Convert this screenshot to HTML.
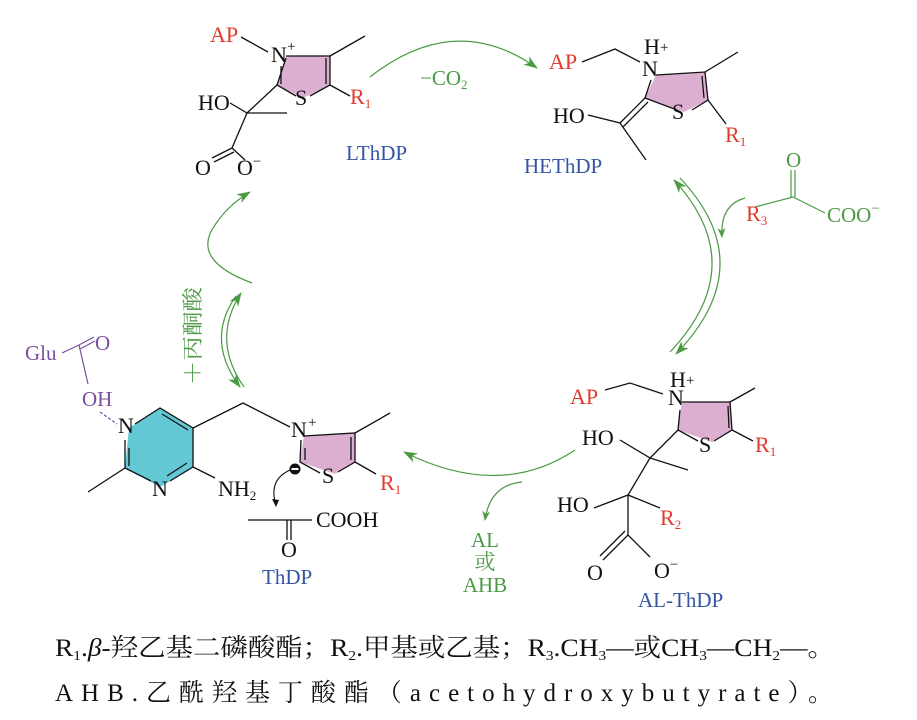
<!DOCTYPE html>
<html><head><meta charset="utf-8"><style>
html,body{margin:0;padding:0;background:#fff;}
svg{display:block;font-family:"Liberation Serif","Noto Serif CJK SC",serif;}
.k{fill:#111;font-size:22px}
.r{fill:#e03a2c;font-size:22px}
.b{fill:#3554a4;font-size:21px}
.g{fill:#4b9a44;font-size:21px}
.p{fill:#7a4ea0;font-size:21px}
.s{font-size:13px}
</style></head><body>
<svg width="917" height="720" viewBox="0 0 917 720" xmlns="http://www.w3.org/2000/svg">
<defs>
<marker id="ah" markerWidth="10" markerHeight="8" refX="9" refY="4" orient="auto" markerUnits="userSpaceOnUse">
<path d="M0,0 L10,4 L0,8 L3,4 z" fill="#4b9a44"/></marker>
<marker id="ah2" markerWidth="14" markerHeight="10" refX="13" refY="5" orient="auto" markerUnits="userSpaceOnUse">
<path d="M0,0 L14,5 L0,10 L4,5 z" fill="#4b9a44"/></marker>
</defs>
<g stroke="#111" stroke-width="1.3" fill="none">
<polygon points="286,56 330,56 330,85 303,98 277,85" fill="#dcaed0" stroke="none"/>
<path d="M286,56 L330,56 L330,85 L310,96 M296,96 L277,85 L286,58"/>
<path d="M326,58 L326,84 M281,66 L281,84"/>
<path d="M330,56 L365,36 M330,85 L350,96 M241,37 L268,52 M277,85 L247,113 L287,113 M230,103 L247,113 L232,148 L212,158 M234,152 L214,162 M232,148 L245,160"/>
<polygon points="656,75 705,72 708,100 684,112 645,98" fill="#dcaed0" stroke="none"/>
<path d="M656,75 L705,72 L708,100 L692,110 M677,110 L645,98 L651,80"/>
<path d="M702,76 L704,98"/>
<path d="M705,72 L738,52 M708,100 L726,124 M582,62 L615,49 L640,62 M645,98 L620,123 M648,102 L623,127 M588,115 L620,123 L646,160"/>
<polygon points="682,402 730,402 732,430 712,442 678,430" fill="#dcaed0" stroke="none"/>
<path d="M682,402 L730,402 L732,430 L714,441 M698,441 L678,430 L680,410"/>
<path d="M728,406 L729,428"/>
<path d="M730,402 L755,388 M732,430 L753,441 M605,390 L630,383 L663,394 M678,430 L650,458 L688,470 M620,440 L650,458 L628,495 L660,508 M594,508 L628,495 L628,535 L603,560 M625,531 L600,556 M628,535 L650,557"/>
<polygon points="129,428 160,408 193,428 193,467 160,487 125,468" fill="#63c8d4" stroke="none"/>
<path d="M135,424 L160,408 L193,428 L193,467 L170,481 M151,481 L125,468 L125,440"/>
<path d="M162,414 L188,430 M129,448 L129,466 M187,463 L167,476"/>
<path d="M125,468 L88,492 M193,467 L215,478 M193,428 L243,403 L290,427"/>
<polygon points="304,436 355,433 355,462 335,474 300,462" fill="#dcaed0" stroke="none"/>
<path d="M304,436 L355,433 L355,462 L338,472 M320,473 L300,462 L301,440"/>
<path d="M351,437 L351,460 M305,448 L305,460"/>
<path d="M355,433 L390,413 M355,462 L376,474"/>
<path d="M248,520 L312,520 M287,520 L287,540 M291,520 L291,540"/>
<path d="M290,470 Q268,480 276,505" stroke-width="1.1"/>
</g>
<path d="M276,507 l-4,-8 l7,1 z" fill="#111"/>
<circle cx="295" cy="469" r="5.5" fill="#111"/><rect x="291.5" y="468" width="7" height="2" fill="#fff"/>
<g stroke="#7a4ea0" stroke-width="1.2" fill="none">
<path d="M62,353 L79,345 L94,337 M80,349 L95,341 M79,345 L88,384"/>
<path d="M100,412 L117,424" stroke-dasharray="3,2"/>
</g>
<text x="25" y="360" class="p">Glu</text><text x="95" y="350" class="p">O</text><text x="82" y="406" class="p">OH</text>
<g stroke="#4b9a44" stroke-width="1.2" fill="none">
<path d="M370,77 Q455,10 537,68" marker-end="url(#ah2)"/>
<path d="M680,178 Q762,265 676,354" marker-end="url(#ah2)"/>
<path d="M670,352 Q752,265 674,180" marker-end="url(#ah2)"/>
<path d="M745,198 Q720,205 722,237" marker-end="url(#ah)"/>
<path d="M755,207 L793,197 L825,213 M791,170 L791,197 M795,170 L795,197"/>
<path d="M575,450 Q500,500 404,452" marker-end="url(#ah2)"/>
<path d="M522,482 Q490,485 485,520" marker-end="url(#ah)"/>
<path d="M252,283 Q190,260 215,225 Q228,205 250,192" marker-end="url(#ah2)"/>
<path d="M236,296 Q205,340 240,387" marker-end="url(#ah2)"/>
<path d="M244,387 Q211,340 241,293" marker-end="url(#ah2)"/>
</g>
<text x="210" y="42" class="r">AP</text>
<text x="271" y="62" class="k">N</text><text x="287" y="51" class="k" style="font-size:15px">+</text>
<text x="295" y="105" class="k">S</text>
<text x="350" y="104" class="r">R<tspan class="s" dy="4">1</tspan></text>
<text x="198" y="110" class="k">HO</text>
<text x="195" y="175" class="k">O</text><text x="237" y="175" class="k">O<tspan dy="-9" style="font-size:15px">−</tspan></text>
<text x="346" y="160" class="b">LThDP</text>
<text x="420" y="85" class="g">−CO<tspan class="s" dy="4">2</tspan></text>
<text x="549" y="69" class="r">AP</text>
<text x="644" y="54" class="k">H</text><text x="660" y="52" class="k" style="font-size:15px">+</text>
<text x="642" y="76" class="k">N</text>
<text x="672" y="119" class="k">S</text>
<text x="725" y="142" class="r">R<tspan class="s" dy="4">1</tspan></text>
<text x="553" y="123" class="k">HO</text>
<text x="524" y="173" class="b">HEThDP</text>
<text x="786" y="167" class="g">O</text>
<text x="746" y="221" class="r">R<tspan class="s" dy="4">3</tspan></text>
<text x="827" y="222" class="g">COO<tspan dy="-9" style="font-size:15px">−</tspan></text>
<text x="570" y="404" class="r">AP</text>
<text x="670" y="387" class="k">H</text><text x="686" y="385" class="k" style="font-size:15px">+</text>
<text x="668" y="405" class="k">N</text>
<text x="699" y="452" class="k">S</text>
<text x="755" y="452" class="r">R<tspan class="s" dy="4">1</tspan></text>
<text x="582" y="445" class="k">HO</text>
<text x="557" y="512" class="k">HO</text>
<text x="660" y="525" class="r">R<tspan class="s" dy="4">2</tspan></text>
<text x="587" y="580" class="k">O</text><text x="654" y="578" class="k">O<tspan dy="-9" style="font-size:15px">−</tspan></text>
<text x="638" y="607" class="b">AL-ThDP</text>
<text x="485" y="547" class="g" text-anchor="middle">AL</text>
<text x="485" y="569" class="g" text-anchor="middle">或</text>
<text x="485" y="592" class="g" text-anchor="middle">AHB</text>
<text x="118" y="433" class="k">N</text>
<text x="152" y="496" class="k">N</text>
<text x="218" y="496" class="k">NH<tspan class="s" dy="4">2</tspan></text>
<text x="291" y="437" class="k">N</text><text x="308" y="427" class="k" style="font-size:15px">+</text>
<text x="322" y="483" class="k">S</text>
<text x="380" y="490" class="r">R<tspan class="s" dy="4">1</tspan></text>
<text x="316" y="527" class="k">COOH</text>
<text x="281" y="557" class="k">O</text>
<text x="262" y="584" class="b">ThDP</text>
<text transform="translate(200,385) rotate(-90)" class="g" textLength="98" lengthAdjust="spacingAndGlyphs">＋丙酮酸</text>
<text x="55" y="656" style="font-size:25px;fill:#111" textLength="780" lengthAdjust="spacingAndGlyphs">R<tspan style="font-size:14px" dy="4">1</tspan><tspan dy="-4">.</tspan><tspan font-style="italic">β</tspan>-羟乙基二磷酸酯；R<tspan style="font-size:14px" dy="4">2</tspan><tspan dy="-4">.甲基或乙基；R</tspan><tspan style="font-size:14px" dy="4">3</tspan><tspan dy="-4">.CH</tspan><tspan style="font-size:14px" dy="4">3</tspan><tspan dy="-4">—或CH</tspan><tspan style="font-size:14px" dy="4">3</tspan><tspan dy="-4">—CH</tspan><tspan style="font-size:14px" dy="4">2</tspan><tspan dy="-4">—。</tspan></text>
<text x="55" y="701" style="font-size:25px;fill:#111" textLength="778" lengthAdjust="spacing">AHB.乙酰羟基丁酸酯（acetohydroxybutyrate）。</text>
</svg>
</body></html>
